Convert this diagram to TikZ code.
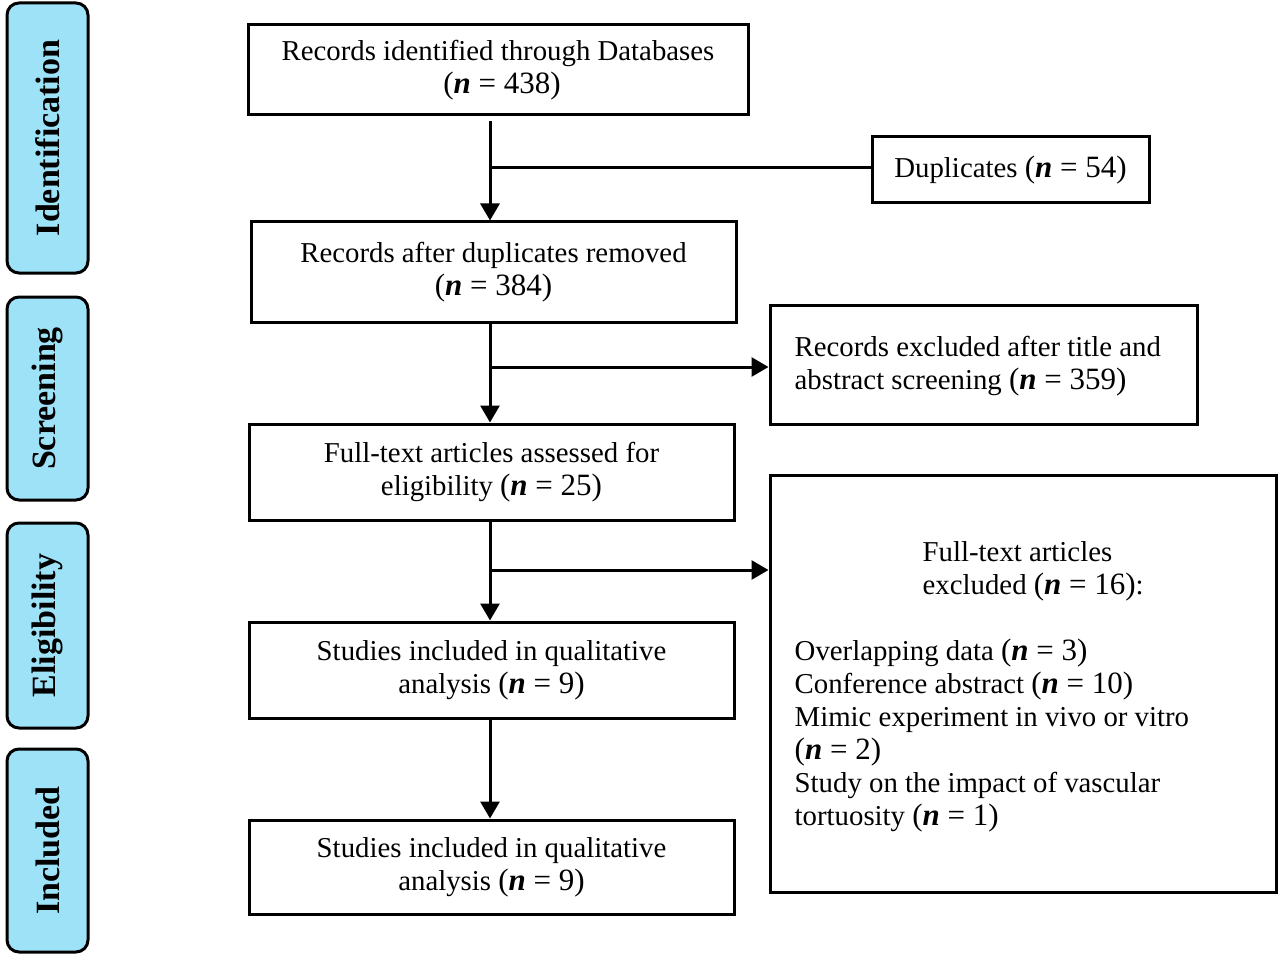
\documentclass[tikz,border=0pt]{standalone}
\usepackage{fontspec}
\setmainfont{Liberation Serif}
\usetikzlibrary{arrows.meta}
\newcommand{\nexpr}[1]{{\fontsize{31}{33}\selectfont(\textbf{\textit{n}} = #1)}}
\definecolor{sideblue}{RGB}{158,226,248}
\begin{document}
\begin{tikzpicture}[x=1pt,y=-1pt,
  box/.style={draw=black,line width=3pt,inner sep=0pt,font=\fontsize{28.8}{33}\selectfont},
  txt/.style={inner sep=0pt,font=\fontsize{28.8}{33}\selectfont},
  side/.style={draw=black,line width=3pt,fill=sideblue,rounded corners=12pt,rotate=90,
     minimum height=81pt,inner sep=0pt,font=\fontsize{34}{36}\selectfont\bfseries},
  arr/.style={line width=3pt,-{Triangle[width=19pt,length=17pt]}},
  ln/.style={line width=3pt}]
\useasboundingbox (0,0) rectangle (1280,960);
\fill[white] (0,0) rectangle (1280,960);
% side labels
\node[side,minimum width=270pt] (sid) at (47.5,138) {Identification};
\node[side,minimum width=203pt] (ssc) at (47.5,398.5) {Screening};
\node[side,minimum width=205pt] (sel) at (47.5,625.5) {Eligibility};
\node[side,minimum width=203pt] (sin) at (47.5,850.5) {Included};
% boxes
\node[box,minimum width=500pt,minimum height=90pt,align=center] (b1) at (498,70)
  {Records identified through Databases\\\hspace*{8pt}\nexpr{438}};
\node[box,minimum width=277pt,minimum height=66pt,align=center] (dup) at (1010.5,170)
  {Duplicates \nexpr{54}};
\node[box,minimum width=485pt,minimum height=100pt,align=center] (b3) at (493.5,272)
  {Records after duplicates removed\\\nexpr{384}};
\node[box,minimum width=427pt,minimum height=119pt] (b4) at (983.5,364.5) {};
\node[txt,anchor=west,align=left] (b4t) at ([xshift=26pt,yshift=-2pt]b4.west)
  {Records excluded after title and\\abstract screening \nexpr{359}};
\node[box,minimum width=485pt,minimum height=96pt,align=center] (b5) at (491.5,472)
  {Full-text articles assessed for\\eligibility \nexpr{25}};
\node[box,minimum width=506pt,minimum height=417pt] (b6) at (1023,683.5) {};
\node[txt,anchor=west,align=left] (b6t) at ([xshift=26pt,yshift=-3pt]b6.west)
  {\hspace*{128pt}Full-text articles\\
   \hspace*{128pt}excluded \nexpr{16}:\\[33pt]
   Overlapping data \nexpr{3}\\
   Conference abstract \nexpr{10}\\
   Mimic experiment in vivo or vitro\\
   \nexpr{2}\\
   Study on the impact of vascular\\
   tortuosity \nexpr{1}};
\node[box,minimum width=485pt,minimum height=96pt,align=center] (b7) at (491.5,670)
  {Studies included in qualitative\\analysis \nexpr{9}};
\node[box,minimum width=485pt,minimum height=94pt,align=center] (b8) at (491.5,867)
  {Studies included in qualitative\\analysis \nexpr{9}};
% connectors
\coordinate (t) at (490,0);
\coordinate (j1) at (490,168);
\coordinate (j2) at (490,367);
\coordinate (j3) at (490,570);
\draw[arr,shorten <=5pt] (t |- b1.south) -- (t |- b3.north);
\draw[ln] (j1) -- (dup.west |- j1);
\draw[arr] (t |- b3.south) -- (t |- b5.north);
\draw[arr] (j2) -- (b4.west |- j2);
\draw[arr] (t |- b5.south) -- (t |- b7.north);
\draw[arr] (j3) -- (b6.west |- j3);
\draw[arr] (t |- b7.south) -- (t |- b8.north);
\end{tikzpicture}
\end{document}
